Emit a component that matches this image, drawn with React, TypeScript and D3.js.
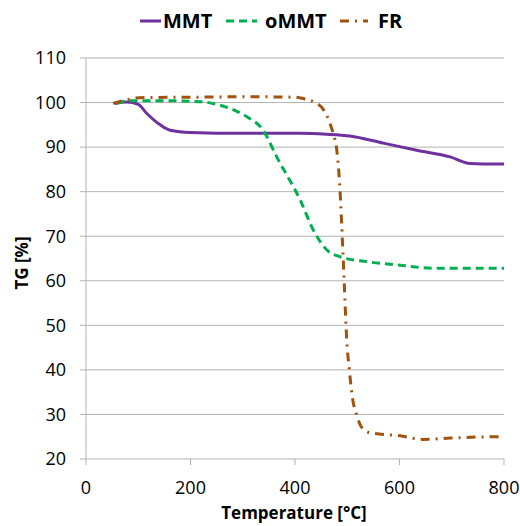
import React from "react";
import * as d3 from "d3";

const xTicks = [0, 200, 400, 600, 800];
const yTicks = [20, 30, 40, 50, 60, 70, 80, 90, 100, 110];

const tempMMT = [55, 78, 100, 116, 142, 161, 200, 300, 410, 460, 505, 569, 633, 697, 735, 760, 800];
const tgMMT = [99.8, 100.1, 99.6, 97.6, 95.0, 93.8, 93.3, 93.1, 93.1, 92.9, 92.5, 90.9, 89.3, 87.8, 86.3, 86.2, 86.2];

const tempOMMT = [59, 82, 150, 220, 256, 280, 308, 339, 365, 410, 435, 461, 486, 537, 601, 665, 800];
const tgOMMT = [99.8, 100.4, 100.4, 100.2, 99.4, 98.5, 96.8, 93.8, 87.8, 78.1, 71.4, 66.9, 65.4, 64.3, 63.5, 62.8, 62.8];

const tempFR = [52, 71, 103, 200, 300, 400, 416, 435, 455, 467, 473, 480, 485, 489, 494, 499, 504, 510, 518, 527, 543, 601, 645, 697, 792, 800];
const tgFR = [99.8, 100.4, 101.1, 101.2, 101.3, 101.2, 100.9, 100.2, 98.3, 95.3, 93.1, 89.3, 82.6, 73.6, 60.2, 46.7, 40.0, 33.7, 29.9, 27.2, 25.9, 25.2, 24.4, 24.7, 25.0, 25.0];

const series = [
  { name: "MMT", t: tempMMT, v: tgMMT, color: "#7030A0", dash: "none" },
  { name: "oMMT", t: tempOMMT, v: tgOMMT, color: "#00B050", dash: "8,5" },
  { name: "FR", t: tempFR, v: tgFR, color: "#A0520F", dash: "9,6,2,6" },
];

const W = 520, H = 526;
const L = 86, R = 504, T = 58, B = 459;
const FONT = "'Open Sans', sans-serif";

export default function App() {
  const x = d3.scaleLinear().domain([0, 800]).range([L, R]);
  const y = d3.scaleLinear().domain([20, 110]).range([B, T]);
  const line = d3
    .line<[number, number]>()
    .x((d) => x(d[0]))
    .y((d) => y(d[1]))
    .curve(d3.curveMonotoneX);

  const legend = [
    { x1: 140, x2: 161, tx: 163 },
    { x1: 226, x2: 257, tx: 265 },
    { x1: 340, x2: 368, tx: 378 },
  ];

  return (
    <svg width={W} height={H} style={{ position: "absolute", left: 0, top: 0, background: "#fff" }} fontFamily={FONT}>
      {yTicks.map((t) => (
        <g key={t}>
          <line x1={L - 6} x2={R} y1={y(t)} y2={y(t)} stroke="#b3b3b3" strokeWidth={1} />
          <text x={66} y={y(t)} dy="0.35em" textAnchor="end" fontSize={18} fill="#000">
            {t}
          </text>
        </g>
      ))}
      <line x1={L} x2={L} y1={T} y2={B} stroke="#b3b3b3" strokeWidth={1} />
      {xTicks.map((t) => (
        <g key={t}>
          <line x1={x(t)} x2={x(t)} y1={B} y2={B + 6} stroke="#b3b3b3" strokeWidth={1} />
          <text x={x(t)} y={488} dy="0.35em" textAnchor="middle" fontSize={18} fill="#000">
            {t}
          </text>
        </g>
      ))}
      {series.map((s) => (
        <path
          key={s.name}
          d={line(s.t.map((tt, i) => [tt, s.v[i]] as [number, number])) || ""}
          fill="none"
          stroke={s.color}
          strokeWidth={3}
          strokeDasharray={s.dash}
        />
      ))}
      {series.map((s, i) => (
        <g key={"lg" + s.name}>
          <line x1={legend[i].x1} x2={legend[i].x2} y1={21} y2={21} stroke={s.color} strokeWidth={3} strokeDasharray={s.dash} />
          <text x={legend[i].tx} y={21} dy="0.35em" fontSize={20} fontWeight="bold" fill="#000">
            {s.name}
          </text>
        </g>
      ))}
      <text x={294} y={519} textAnchor="middle" fontSize={17} fontWeight="bold" fill="#000">
        Temperature [°C]
      </text>
      <text transform={`translate(22,263) rotate(-90)`} dy="0.35em" textAnchor="middle" fontSize={17} fontWeight="bold" fill="#000">
        TG [%]
      </text>
    </svg>
  );
}
